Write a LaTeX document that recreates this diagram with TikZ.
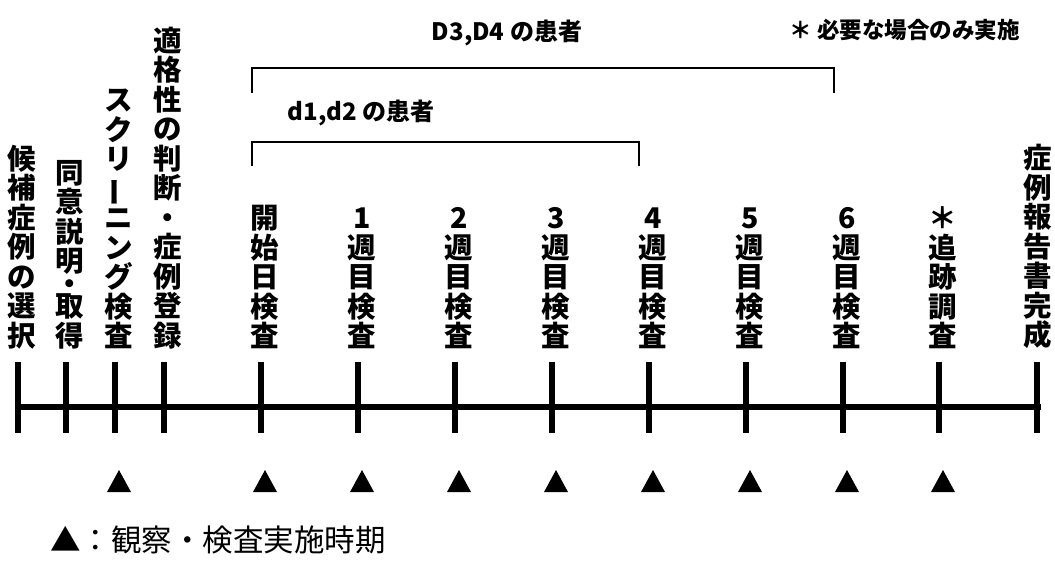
\documentclass[tikz,border=0pt]{standalone}
\usepackage{graphicx}
\usepackage{fontspec}
\newfontfamily\jp{Noto Sans CJK JP}
\newcommand{\vbar}{\rotatebox[origin=c]{90}{ー}}
\begin{document}
\begin{tikzpicture}[x=1pt,y=-1pt,
  lab/.style={anchor=south, inner sep=0pt, align=center, font=\jp\bfseries\fontsize{28.5}{29.5}\selectfont},
  head/.style={inner sep=0pt, font=\jp\bfseries\fontsize{24}{27}\selectfont},
  legend/.style={inner sep=0pt, anchor=west, font=\jp\fontsize{30.5}{33}\selectfont},
  bracket/.style={line width=1.6pt},
  trimark/.style={fill=black},
  tickbar/.style={fill=black}]
\useasboundingbox (0,0) rectangle (1055,566);
% timeline
\coordinate (L0) at (16,407);
\coordinate (L1) at (1041,407);
\draw[line width=6pt] (L0) -- (L1);
% ticks
\foreach \x/\n in {18/a,66/b,115/c,164/d,261/e,358/f,455/g,552/h,649/i,746/j,843/k,939/l,1037/m}{
  \coordinate (t\n) at (\x,407);
  \fill[tickbar] (\x-3,362) rectangle (\x+3,433);
}
% vertical labels
\node[lab] (la) at (22,349) {候\\補\\症\\例\\の\\選\\択};
\node[lab] (lb) at (70,349) {同\\意\\説\\明\\[-7pt]・\\[-7pt]取\\得};
\node[lab] (lc) at (119,349) {ス\\ク\\リ\\\vbar\\ニ\\ン\\グ\\検\\査};
\node[lab] (ld) at (168,349) {適\\格\\性\\の\\判\\断\\・\\症\\例\\登\\録};
\node[lab] (le) at (265,349) {開\\始\\日\\検\\査};
\node[lab] (lf) at (362,349) {1\\週\\目\\検\\査};
\node[lab] (lg) at (459,349) {2\\週\\目\\検\\査};
\node[lab] (lh) at (556,349) {3\\週\\目\\検\\査};
\node[lab] (li) at (653,349) {4\\週\\目\\検\\査};
\node[lab] (lj) at (750,349) {5\\週\\目\\検\\査};
\node[lab] (lk) at (847,349) {6\\週\\目\\検\\査};
\node[lab] (ll) at (943,349) {＊\\追\\跡\\調\\査};
\node[lab] (lm) at (1038,349) {症\\例\\報\\告\\書\\完\\成};
% brackets
\coordinate (b1a) at (252,93); \coordinate (b1b) at (834,93);
\draw[bracket] (b1a) -- (252,68) -- (834,68) -- (b1b);
\coordinate (b2a) at (252,166); \coordinate (b2b) at (639,166);
\draw[bracket] (b2a) -- (252,142) -- (639,142) -- (b2b);
\node[head] (hD) at (507,33) {D3,D4 の患者};
\node[head] (hd) at (361,113) {d1,d2 の患者};
\node[head, anchor=east, font=\jp\bfseries\fontsize{22.5}{25}\selectfont] (note) at (1020,30) {＊ 必要な場合のみ実施};
% triangles
\foreach \x/\n in {119/c,265/e,362/f,459/g,556/h,653/i,750/j,847/k,943/l}{
  \coordinate (m\n) at (\x,481);
  \fill[trimark] (\x-12,492) -- (\x+12,492) -- (\x,470) -- cycle;
}
% legend
\node[legend] (leg) at (50,540) {▲：観察・検査実施時期};
\end{tikzpicture}
\end{document}
